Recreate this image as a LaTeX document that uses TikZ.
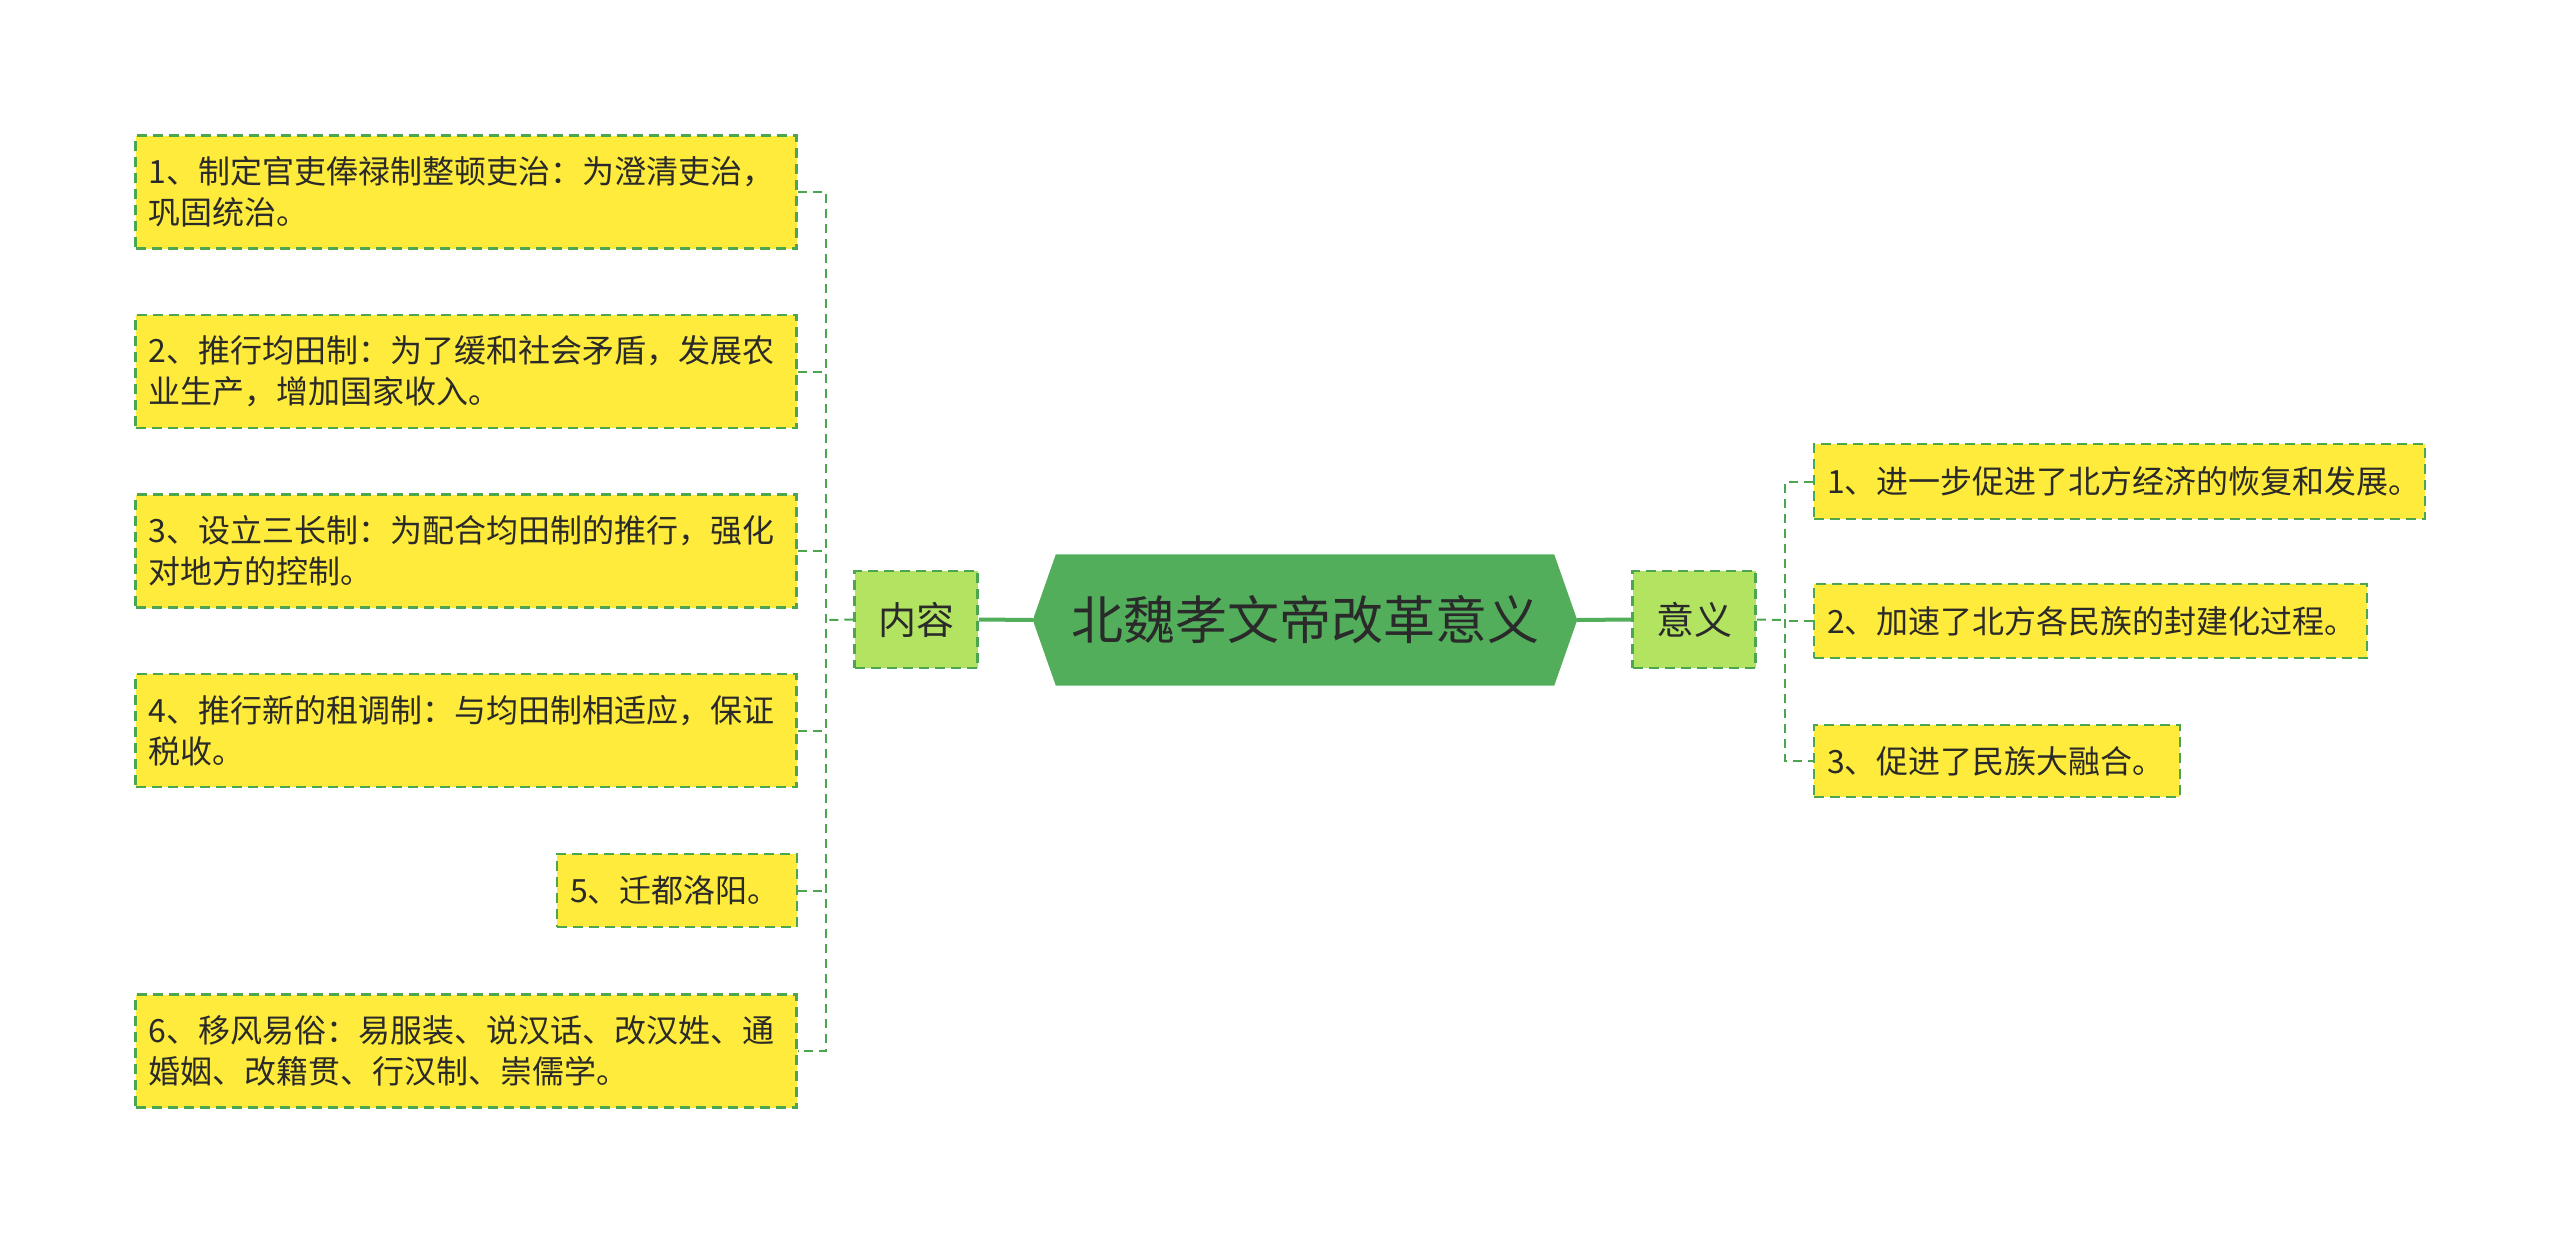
\documentclass[tikz,border=0pt]{standalone}
\usepackage{fontspec}
\setmainfont{Noto Sans CJK SC}
\usetikzlibrary{calc}
\definecolor{boxyellow}{HTML}{FFEB3B}
\definecolor{bordergreen}{HTML}{4CA64F}
\definecolor{lightgreen}{HTML}{B2E462}
\definecolor{rootgreen}{HTML}{52AE5B}
\definecolor{txt}{HTML}{2A2A2A}
\begin{document}
\begin{tikzpicture}[x=1pt,y=-1pt,
  leaf/.style={draw=bordergreen, fill=boxyellow, line width=2.5pt,
    dash pattern=on 10pt off 6pt, inner xsep=13pt, inner ysep=0pt,
    align=left, text=txt, font=\fontsize{32}{41}\selectfont},
  mid/.style={draw=bordergreen, fill=lightgreen, line width=2.5pt,
    dash pattern=on 10pt off 6pt, inner sep=0pt, text=txt,
    minimum width=123pt, minimum height=97pt, font=\fontsize{38}{44}\selectfont},
  conn/.style={draw=bordergreen, line width=2pt, dash pattern=on 9pt off 6pt},
  trunk/.style={draw=rootgreen, line width=4pt}]
\useasboundingbox (0,0) rectangle (2560,1242);
\fill[white] (0,0) rectangle (2560,1242);

% left leaves
\node[leaf, text width=635pt, minimum height=113pt] (L1) at (466,192)
  {1、制定官吏俸禄制整顿吏治：为澄清吏治，\\巩固统治。};
\node[leaf, text width=635pt, minimum height=113pt] (L2) at (466,371.5)
  {2、推行均田制：为了缓和社会矛盾，发展农\\业生产，增加国家收入。};
\node[leaf, text width=635pt, minimum height=113pt] (L3) at (466,551)
  {3、设立三长制：为配合均田制的推行，强化\\对地方的控制。};
\node[leaf, text width=635pt, minimum height=113pt] (L4) at (466,730.5)
  {4、推行新的租调制：与均田制相适应，保证\\税收。};
\node[leaf, text width=214pt, minimum height=73pt] (L5) at (677,890.5)
  {5、迁都洛阳。};
\node[leaf, text width=635pt, minimum height=113pt] (L6) at (466,1051)
  {6、移风易俗：易服装、说汉话、改汉姓、通\\婚姻、改籍贯、行汉制、崇儒学。};

% middle nodes
\node[mid] (nei) at (916,619.5) {内容};
\node[mid] (yi) at (1694,619.5) {意义};

% root hexagon
\node[minimum width=544pt, minimum height=131pt, inner sep=0pt] (root) at (1305,620) {};
\fill[rootgreen] (root.west) -- ($(root.north west)+(23,0)$) -- ($(root.north east)+(-23,0)$)
  -- (root.east) -- ($(root.south east)+(-23,0)$) -- ($(root.south west)+(23,0)$) -- cycle;
\node[text=txt, font=\fontsize{52}{60}\selectfont] (roottext) at (root.center) {北魏孝文帝改革意义};

% right leaves
\node[leaf, text width=585pt, minimum height=75pt] (R1) at (2119.5,481.5)
  {1、进一步促进了北方经济的恢复和发展。};
\node[leaf, text width=527pt, minimum height=74pt] (R2) at (2090.5,621)
  {2、加速了北方各民族的封建化过程。};
\node[leaf, text width=340pt, minimum height=72pt] (R3) at (1997,761)
  {3、促进了民族大融合。};

% trunk connectors
\draw[trunk] (nei.east) -- (root.west);
\draw[trunk] (root.east) -- (yi.west);

% left spine
\coordinate (sL) at (826,620);
\draw[conn] (L1.east) -| (sL |- L6.east) -- (L6.east);
\draw[conn] (L2.east) -- (L2.east -| sL);
\draw[conn] (L3.east) -- (L3.east -| sL);
\draw[conn] (L4.east) -- (L4.east -| sL);
\draw[conn] (L5.east) -- (L5.east -| sL);
\draw[conn] (nei.west) -- (sL);

% right spine
\coordinate (sR) at (1785,620);
\draw[conn] (R1.west) -| (sR |- R3.west) -- (R3.west);
\draw[conn] (R2.west) -- (R2.west -| sR);
\draw[conn] (yi.east) -- (sR);
\end{tikzpicture}
\end{document}
